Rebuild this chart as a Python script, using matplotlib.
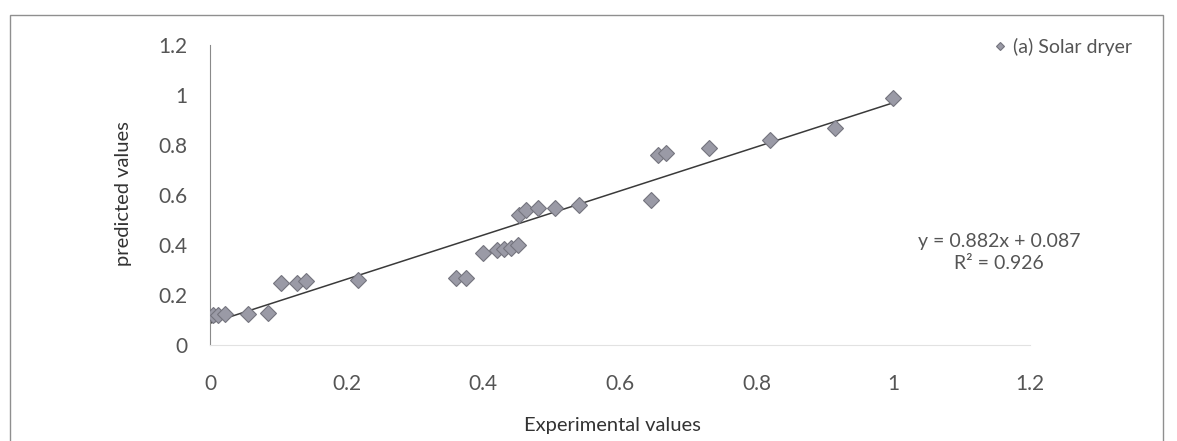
import matplotlib.pyplot as plt
from matplotlib.patches import Rectangle

# experimental vs predicted moisture ratio, solar dryer
experimental = [0.005, 0.012, 0.022, 0.055, 0.085, 0.104, 0.127, 0.140, 0.217,
                0.360, 0.375, 0.400, 0.420, 0.430, 0.440, 0.450,
                0.452, 0.462, 0.480, 0.505, 0.540,
                0.645, 0.655, 0.667, 0.730, 0.820, 0.915, 1.000]
predicted = [0.12, 0.12, 0.125, 0.125, 0.13, 0.25, 0.25, 0.255, 0.26,
             0.27, 0.27, 0.37, 0.38, 0.385, 0.39, 0.40,
             0.52, 0.54, 0.55, 0.55, 0.56,
             0.58, 0.76, 0.77, 0.79, 0.82, 0.87, 0.99]

slope, intercept, r2 = 0.882, 0.087, 0.926
trend_x = [0.0, 1.0]

ticks = [0, 0.2, 0.4, 0.6, 0.8, 1, 1.2]
tick_labels = ['0', '0.2', '0.4', '0.6', '0.8', '1', '1.2']

plt.rcParams['font.family'] = ['Lato', 'DejaVu Sans']
text_color = '#555555'
W, H = 1177, 441

fig = plt.figure(figsize=(W / 100, H / 100), dpi=100)
fig.patch.set_facecolor('white')

# outer chart frame
fig.patches.append(Rectangle((10 / W, -0.05), (1163 - 10) / W, 1.05 - 15 / H,
                             transform=fig.transFigure, fill=False,
                             edgecolor='#8f8f8f', linewidth=1.0))

ax = fig.add_axes([210 / W, 96 / H, 820 / W, 300 / H])
ax.set_xlim(0, 1.2)
ax.set_ylim(0, 1.2)

ax.plot(experimental, predicted, linestyle='none', marker='D', markersize=8,
        markerfacecolor='#9a9aa6', markeredgecolor='#74747e', markeredgewidth=0.8,
        label='(a) Solar dryer', zorder=3)

trend_y = [slope * v + intercept for v in trend_x]
ax.plot(trend_x, trend_y, color='#3a3a3a', linewidth=1.1, zorder=2)

ax.text(1.155, 0.37, f'y = {slope}x + {intercept}\nR\u00b2 = {r2}',
        ha='center', va='center', fontsize=14, color=text_color, linespacing=1.3)

for side in ['top', 'right']:
    ax.spines[side].set_visible(False)
ax.spines['left'].set_color('#8a8a8a')
ax.spines['bottom'].set_color('#e2e2e2')

ax.set_xticks(ticks)
ax.set_xticklabels(tick_labels)
ax.set_yticks(ticks)
ax.set_yticklabels(tick_labels)
ax.tick_params(axis='both', length=0, labelsize=15, colors=text_color)
ax.tick_params(axis='x', pad=21)
ax.tick_params(axis='y', pad=16)

fig.text(612 / W, 1 - 425 / H, 'Experimental values', ha='center', va='center',
         fontsize=14.5, color='#333333')
fig.text(123 / W, 1 - 194 / H, 'predicted values', ha='center', va='center',
         rotation=90, fontsize=14.5, color='#333333')

leg = ax.legend(loc='center left', bbox_to_anchor=(994 / W, 1 - 47 / H),
                bbox_transform=fig.transFigure, frameon=False, fontsize=14,
                handlelength=0.6, handletextpad=0.4, markerscale=0.55,
                borderpad=0, borderaxespad=0)
for t in leg.get_texts():
    t.set_color(text_color)

fig.savefig('out.png', dpi=100)
